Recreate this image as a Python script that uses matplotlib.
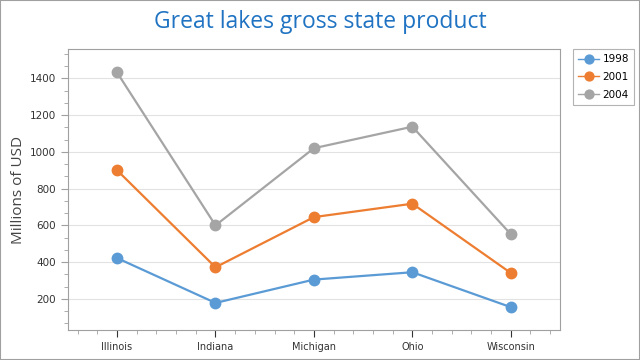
import matplotlib
matplotlib.use('Agg')
import matplotlib.pyplot as plt
import matplotlib.ticker as ticker
from matplotlib.patches import Rectangle

# ── Data ──────────────────────────────────────────────────
states = ['Illinois', 'Indiana', 'Michigan', 'Ohio', 'Wisconsin']
years = ['1998', '2001', '2004']
gsp_1998 = [422, 178, 305, 345, 155]
gsp_2001 = [900, 372, 645, 718, 341]
gsp_2004 = [1432, 600, 1020, 1137, 552]

colors = ['#5B9BD5', '#ED7D31', '#A5A5A5']

plt.rcParams['font.family'] = ['DejaVu Sans']

fig = plt.figure(figsize=(6.4, 3.6), dpi=100)
fig.patch.set_facecolor('white')
ax = fig.add_axes([0.106, 0.083, 0.769, 0.781])

x = list(range(len(states)))
for vals, yr, c in zip([gsp_1998, gsp_2001, gsp_2004], years, colors):
    ax.plot(x, vals, color=c, linewidth=1.6, marker='o', markersize=7.5,
            label=yr, zorder=3)

ax.set_xlim(-0.5, 4.5)
ax.set_ylim(30, 1560)
ax.set_xticks(x)
ax.set_xticklabels(states, fontsize=7)
ax.xaxis.set_minor_locator(ticker.MultipleLocator(0.2))
ax.yaxis.set_major_locator(ticker.MultipleLocator(200))
ax.yaxis.set_minor_locator(ticker.MultipleLocator(200 / 3))
ax.tick_params(axis='y', labelsize=7.5, colors='#333333')
ax.tick_params(which='major', length=5, color='#A0A0A0')
ax.tick_params(which='minor', length=3, color='#A0A0A0')
ax.tick_params(axis='x', colors='#333333')
ax.grid(axis='y', which='major', color='#E2E2E2', linewidth=0.8, zorder=0)
for s in ax.spines.values():
    s.set_color('#A0A0A0')

ax.set_ylabel('Millions of USD', fontsize=11, color='#444444', labelpad=3,
              family='Open Sans')
fig.text(0.5, 0.94, 'Great lakes gross state product', ha='center', va='center',
         fontsize=16.5, color='#1F73C2', family='Open Sans')

leg = ax.legend(loc='upper left', bbox_to_anchor=(1.027, 1.0), fontsize=7.5,
                frameon=True, fancybox=False, edgecolor='#A0A0A0',
                handlelength=2.0, borderpad=0.5, labelspacing=0.75,
                handletextpad=0.3, borderaxespad=0, markerscale=0.85)
leg.get_frame().set_linewidth(0.8)
for h in leg.get_lines():
    h.set_linewidth(1.0)

fig.patches.append(Rectangle((0, 0), 1, 1, transform=fig.transFigure,
                             fill=False, edgecolor='#A0A0A0', linewidth=1.5))

fig.savefig('out.png', dpi=100, facecolor='white')
